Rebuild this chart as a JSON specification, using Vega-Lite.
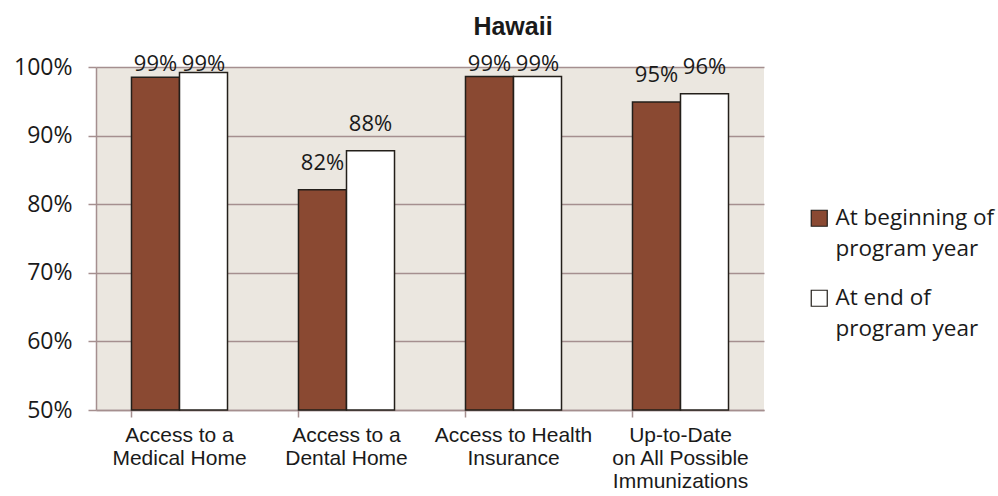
{
  "$schema": "https://vega.github.io/schema/vega-lite/v6.json",
  "width": 668,
  "height": 343,
  "autosize": {"type": "none"},
  "padding": {"left": 96, "top": 67, "right": 234, "bottom": 86},
  "background": "white",
  "title": {"text": "Hawaii", "font": "Liberation Sans", "fontSize": 25, "fontWeight": "bold", "color": "#1a1a1a", "anchor": "middle", "dx": 83, "offset": 13},
  "config": {
    "view": {"fill": "#EBE7E0", "stroke": null}
  },
  "data": {"values": [
    {"measure": "Access to a Medical Home", "period": "At beginning of program year", "value": 0.985},
    {"measure": "Access to a Medical Home", "period": "At end of program year", "value": 0.992},
    {"measure": "Access to a Dental Home", "period": "At beginning of program year", "value": 0.821},
    {"measure": "Access to a Dental Home", "period": "At end of program year", "value": 0.878},
    {"measure": "Access to Health Insurance", "period": "At beginning of program year", "value": 0.986},
    {"measure": "Access to Health Insurance", "period": "At end of program year", "value": 0.986},
    {"measure": "Up-to-Date on All Possible Immunizations", "period": "At beginning of program year", "value": 0.949},
    {"measure": "Up-to-Date on All Possible Immunizations", "period": "At end of program year", "value": 0.961}
  ]},
  "encoding": {
    "x": {
      "field": "measure", "type": "nominal",
      "sort": ["Access to a Medical Home", "Access to a Dental Home", "Access to Health Insurance", "Up-to-Date on All Possible Immunizations"],
      "scale": {"paddingInner": 0.425, "paddingOuter": 0.2125},
      "axis": {
        "title": null,
        "labelAngle": 0,
        "labelFont": "Liberation Sans",
        "labelFontSize": 21,
        "labelColor": "#1a1a1a",
        "labelLineHeight": 23,
        "labelPadding": 7,
        "labelBaseline": "top",
        "labelLimit": 300,
        "labelExpr": "datum.label == 'Access to a Medical Home' ? ['Access to a', 'Medical Home'] : datum.label == 'Access to a Dental Home' ? ['Access to a', 'Dental Home'] : datum.label == 'Access to Health Insurance' ? ['Access to Health', 'Insurance'] : ['Up-to-Date', 'on All Possible', 'Immunizations']",
        "bandPosition": 0,
        "tickSize": 7,
        "tickColor": "#A58F8F",
        "tickWidth": 1.5,
        "domainColor": "#A58F8F",
        "domainWidth": 1.5,
        "grid": false
      }
    },
    "xOffset": {"field": "period", "type": "nominal", "sort": ["At beginning of program year", "At end of program year"], "scale": {"paddingInner": 0, "paddingOuter": 0}}
  },
  "layer": [
    {
      "mark": {"type": "bar", "stroke": "#231F1A", "strokeWidth": 1.5},
      "encoding": {
        "y": {
          "field": "value", "type": "quantitative",
          "scale": {"domain": [0.5, 1], "zero": false, "nice": false},
          "axis": {
            "title": null,
            "values": [0.5, 0.6, 0.7, 0.8, 0.9, 1.0],
            "format": ".0%",
            "labelFont": "Open Sans",
            "labelFontSize": 23,
            "labelColor": "#1a1a1a",
            "labelPadding": 16,
            "tickSize": 8,
            "tickColor": "#A58F8F",
            "tickWidth": 1.5,
            "domainColor": "#A58F8F",
            "domainWidth": 1.5,
            "grid": true,
            "gridColor": "#A58F8F",
            "gridWidth": 1.5
          }
        },
        "y2": {"datum": 0.5},
        "color": {
          "field": "period", "type": "nominal",
          "scale": {"domain": ["At beginning of program year", "At end of program year"], "range": ["#8A4932", "#FFFFFF"]},
          "legend": {
            "title": null,
            "orient": "none",
            "legendX": 712,
            "legendY": 140,
            "symbolType": "square",
            "symbolSize": 256,
            "symbolStrokeColor": "#231F1A",
            "symbolStrokeWidth": 1.2,
            "labelFont": "Open Sans",
            "labelFontSize": 22.5,
            "labelColor": "#1a1a1a",
            "labelOffset": 5,
            "labelLimit": 300,
            "rowPadding": 26,
            "labelExpr": "datum.label == 'At beginning of program year' ? ['At beginning of', 'program year'] : ['At end of', 'program year']",
            "encode": {"labels": {"update": {"lineHeight": {"value": 31}}}}
          }
        }
      }
    },
    {
      "mark": {"type": "text", "baseline": "bottom", "dy": {"expr": "max(-15, 9 - scale('y', datum.value))"}, "font": "Open Sans", "fontSize": 22, "color": "#1a1a1a"},
      "encoding": {
        "y": {"field": "value", "type": "quantitative"},
        "text": {"field": "value", "type": "quantitative", "format": ".0%"}
      }
    }
  ]
}
